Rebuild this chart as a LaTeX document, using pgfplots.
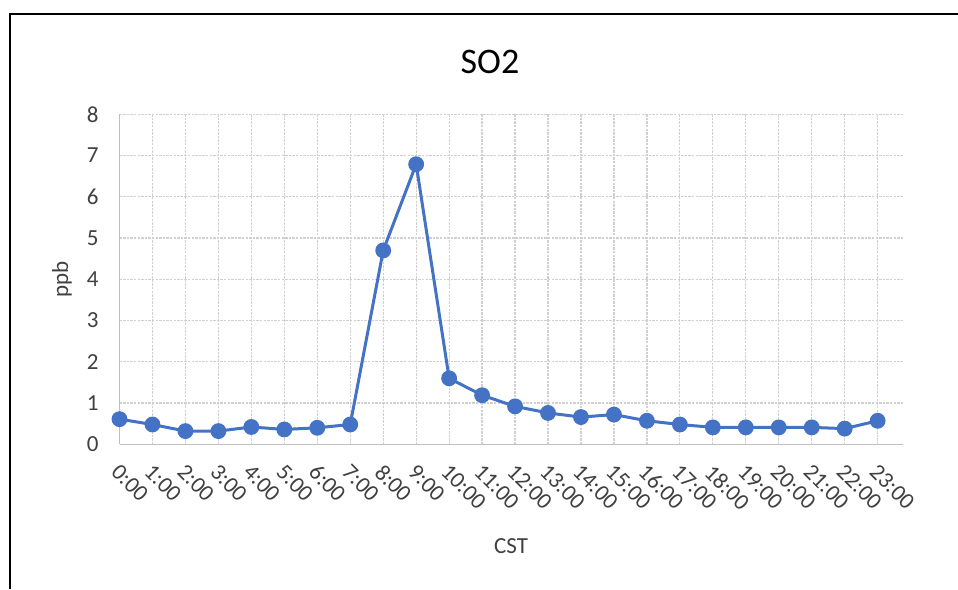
\documentclass[border=0pt]{standalone}
\usepackage{pgfplots}
\pgfplotsset{compat=1.18}
\usepackage{fontspec}
\setmainfont{Carlito}
\definecolor{lineblue}{HTML}{4472C4}
\definecolor{gridgray}{HTML}{D0D0D0}
\definecolor{axgray}{HTML}{BFBFBF}
\definecolor{txt}{HTML}{404040}
\begin{document}
\begin{tikzpicture}
\useasboundingbox (0,0) rectangle (479pt,294.5pt);
\draw[black, line width=1.2pt] (5pt,0pt) -- (5pt,287.5pt) -- (479pt,287.5pt);
\node[font=\fontsize{18}{20}\selectfont, text=black] at (245pt,263.6pt) {SO2};
\begin{axis}[
  at={(59.75pt,72.35pt)}, anchor=south west,
  scale only axis, width=391.6pt, height=165pt,
  xmin=0, xmax=23.76, ymin=0, ymax=8,
  xtick={0,...,23},
  xticklabels={0:00,1:00,2:00,3:00,4:00,5:00,6:00,7:00,8:00,9:00,10:00,11:00,12:00,13:00,14:00,15:00,16:00,17:00,18:00,19:00,20:00,21:00,22:00,23:00},
  ytick={0,1,...,8},
  major tick length=0pt,
  grid=major,
  major grid style={gridgray, dash pattern=on 1.2pt off 0.6pt, line width=0.6pt},
  axis line style={draw=none},
  ticklabel style={font=\fontsize{11.5}{12}\selectfont, text=txt},
  /pgf/number format/assume math mode=true,
  xticklabel style={rotate=-45, anchor=north west, xshift=3.5pt, yshift=-2.6pt},
  yticklabel style={xshift=-7pt},
  xlabel={CST}, ylabel={ppb},
  label style={font=\fontsize{11.5}{12}\selectfont, text=txt},
  xlabel style={at={(axis description cs:0.5,0)}, anchor=center, yshift=-50.7pt},
  ylabel style={at={(axis description cs:-0.0734,0.5)}, anchor=center},
  clip=false,
]
\draw[axgray, line width=0.8pt] (axis cs:0,0) -- (axis cs:23.76,0);
\draw[axgray, line width=0.6pt] (axis cs:0,0) -- (axis cs:0,8);
\addplot[lineblue, line width=1.5pt, mark=*, mark size=3.2pt, mark options={fill=lineblue, draw=lineblue}] coordinates {
(0,0.61) (1,0.48) (2,0.32) (3,0.32) (4,0.42) (5,0.36) (6,0.40) (7,0.48)
(8,4.70) (9,6.79) (10,1.60) (11,1.19) (12,0.92) (13,0.76) (14,0.66) (15,0.72)
(16,0.57) (17,0.48) (18,0.41) (19,0.41) (20,0.41) (21,0.41) (22,0.38) (23,0.57)
};
\end{axis}
\end{tikzpicture}
\end{document}
